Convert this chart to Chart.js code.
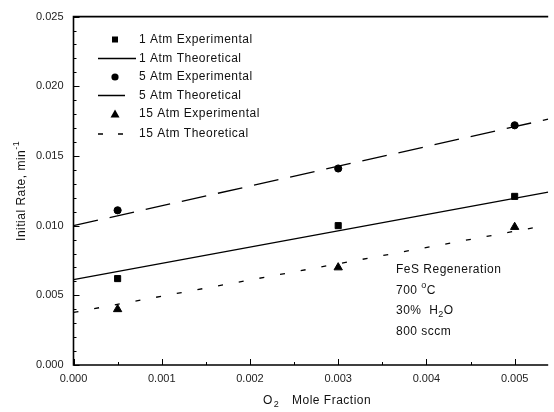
<!DOCTYPE html>
<html>
<head>
<meta charset="utf-8">
<script src="https://cdn.jsdelivr.net/npm/chart.js@4/dist/chart.umd.min.js"></script>
<style>
html,body{margin:0;padding:0;background:#fff;}
#wrap{width:554px;height:412px;position:relative;}
</style>
</head>
<body>
<div id="wrap"><canvas id="c" width="554" height="412"></canvas></div>
<script>
// O2 mole fraction of the experiments
const xExp = [0.0005, 0.003, 0.005];
const exp1 = [0.0062, 0.0100, 0.0121];
const exp5 = [0.0111, 0.0141, 0.0172];
const exp15 = [0.0040, 0.0070, 0.0099];
// theoretical lines: end points across the axis range
const xTheo = [0, 0.00538];
const theo1 = [0.00613, 0.0124];
const theo5 = [0.0100, 0.01764];
const theo15 = [0.00377, 0.01004];
const legendLabels = ['1 Atm Experimental','1 Atm Theoretical','5 Atm Experimental','5 Atm Theoretical','15 Atm Experimental','15 Atm Theoretical'];
const notes = ['FeS Regeneration','700 °C','30% H₂O','800 sccm'];
const yTitle = 'Initial Rate, min';
const xTitle = 'Mole Fraction';

const pts = (xs, ys) => xs.map((x,i)=>({x:x,y:ys[i]}));
const FONT = '"Liberation Sans", Arial, sans-serif';

const ds = [
  {label:legendLabels[0], data:pts(xExp,exp1), pointStyle:'rect', pointRadius:4.3, backgroundColor:'#000', borderColor:'#000', showLine:false},
  {label:legendLabels[1], data:pts(xTheo,theo1), showLine:true, pointRadius:0, borderColor:'#000', borderWidth:1.3},
  {label:legendLabels[2], data:pts(xExp,exp5), pointStyle:'circle', pointRadius:3.6, backgroundColor:'#000', borderColor:'#000', showLine:false},
  {label:legendLabels[3], data:pts(xTheo,theo5), showLine:true, pointRadius:0, borderColor:'#000', borderWidth:1.3, borderDash:[25,12]},
  {label:legendLabels[4], data:pts(xExp,exp15), pointStyle:'triangle', pointRadius:4.8, backgroundColor:'#000', borderColor:'#000', showLine:false},
  {label:legendLabels[5], data:pts(xTheo,theo15), showLine:true, pointRadius:0, borderColor:'#000', borderWidth:1.3, borderDash:[5,16]}
];

const deco = {
  id:'deco',
  afterDraw(chart){
    const ctx = chart.ctx, a = chart.chartArea;
    const xs = chart.scales.x, ys = chart.scales.y;
    ctx.save();
    ctx.strokeStyle = '#000';
    ctx.lineWidth = 1.6;
    ctx.beginPath();
    ctx.moveTo(a.right, a.top); ctx.lineTo(a.left, a.top); ctx.lineTo(a.left, a.bottom); ctx.lineTo(a.right, a.bottom);
    ctx.stroke();
    ctx.lineWidth = 1;
    ctx.beginPath();
    for (let i=0;i<=25;i++){
      const v = i*0.001, y = Math.round(ys.getPixelForValue(v))+0.5;
      const len = (i%5===0)?6:3;
      ctx.moveTo(a.left, y); ctx.lineTo(a.left+len, y);
    }
    for (let i=0;i<=10;i++){
      const v = i*0.0005, x = Math.round(xs.getPixelForValue(v))+0.5;
      const len = (i%2===0)?6:3;
      ctx.moveTo(x, a.bottom); ctx.lineTo(x, a.bottom-len);
    }
    ctx.stroke();

    // legend
    ctx.fillStyle = '#111';
    ctx.font = '12px ' + FONT;
    ctx.letterSpacing = '0.5px';
    ctx.textBaseline = 'middle';
    const rows = [39.5, 58.5, 77, 95.5, 114, 134];
    const tx = 139;
    rows.forEach((ry,i)=>{ ctx.fillText(legendLabels[i], tx, ry); });
    ctx.fillStyle = '#000';
    ctx.fillRect(112, rows[0]-3, 6, 6);
    ctx.beginPath(); ctx.arc(115, rows[2], 3.6, 0, Math.PI*2); ctx.fill();
    ctx.beginPath(); ctx.moveTo(115, rows[4]-4.5); ctx.lineTo(119.5, rows[4]+3.5); ctx.lineTo(110.5, rows[4]+3.5); ctx.closePath(); ctx.fill();
    ctx.lineWidth = 1.3;
    ctx.beginPath();
    ctx.moveTo(98, rows[1]); ctx.lineTo(136, rows[1]);
    ctx.moveTo(98, rows[3]); ctx.lineTo(125, rows[3]);
    ctx.moveTo(98, rows[5]); ctx.lineTo(103, rows[5]);
    ctx.moveTo(118, rows[5]); ctx.lineTo(123, rows[5]);
    ctx.stroke();

    // annotations
    ctx.fillStyle = '#111';
    const ny = [270, 291, 311, 332];
    ctx.fillText(notes[0], 396, ny[0]);
    ctx.fillText(notes[3], 396, ny[3]);
    ctx.fillText('700 ', 396, ny[1]);
    let w = ctx.measureText('700 ').width;
    ctx.font = '9px ' + FONT;
    ctx.fillText('o', 396+w, ny[1]-5);
    let w2 = ctx.measureText('o').width;
    ctx.font = '12px ' + FONT;
    ctx.fillText('C', 396+w+w2, ny[1]);
    ctx.fillText('30%  H', 396, ny[2]);
    w = ctx.measureText('30%  H').width;
    ctx.font = '9px ' + FONT;
    ctx.fillText('2', 396+w, ny[2]+4);
    w2 = ctx.measureText('2').width;
    ctx.font = '12px ' + FONT;
    ctx.fillText('O', 396+w+w2, ny[2]);

    // x title: O2   Mole Fraction
    ctx.fillText('O', 263, 401);
    w = ctx.measureText('O').width;
    ctx.font = '9px ' + FONT;
    ctx.fillText('2', 263+w+1, 405);
    ctx.font = '12px ' + FONT;
    ctx.fillText(xTitle, 292, 401);

    // y title rotated with superscript -1
    ctx.translate(22, (a.top+a.bottom)/2);
    ctx.rotate(-Math.PI/2);
    ctx.font = '12px ' + FONT;
    const tw = ctx.measureText(yTitle).width;
    ctx.font = '9px ' + FONT;
    const sw = ctx.measureText('-1').width;
    const start = -(tw+sw)/2;
    ctx.font = '12px ' + FONT;
    ctx.fillText(yTitle, start, 0);
    ctx.font = '9px ' + FONT;
    ctx.fillText('-1', start+tw, -5);
    ctx.restore();
  }
};

new Chart(document.getElementById('c'), {
  type:'scatter',
  data:{datasets:ds},
  plugins:[deco],
  options:{
    responsive:false,
    animation:false,
    devicePixelRatio:1,
    layout:{padding:{top:12.7, right:0, left:0, bottom:0}},
    plugins:{legend:{display:false}, tooltip:{enabled:false}},
    scales:{
      x:{
        type:'linear', min:0, max:0.00538,
        grid:{display:false, drawTicks:false},
        border:{display:false},
        ticks:{stepSize:0.001, includeBounds:false, padding:7, color:'#222', font:{family:FONT, size:11}, maxRotation:0,
          callback:(v)=>Number(v).toFixed(3)},
        title:{display:false},
        afterFit:(s)=>{s.height = 47;}
      },
      y:{
        type:'linear', min:0, max:0.025,
        grid:{display:false, drawTicks:false},
        border:{display:false},
        ticks:{stepSize:0.005, padding:10, color:'#222', font:{family:FONT, size:11},
          callback:(v)=>Number(v).toFixed(3)},
        title:{display:false},
        afterFit:(s)=>{s.width = 73.5;}
      }
    }
  }
});
</script>
</body>
</html>
